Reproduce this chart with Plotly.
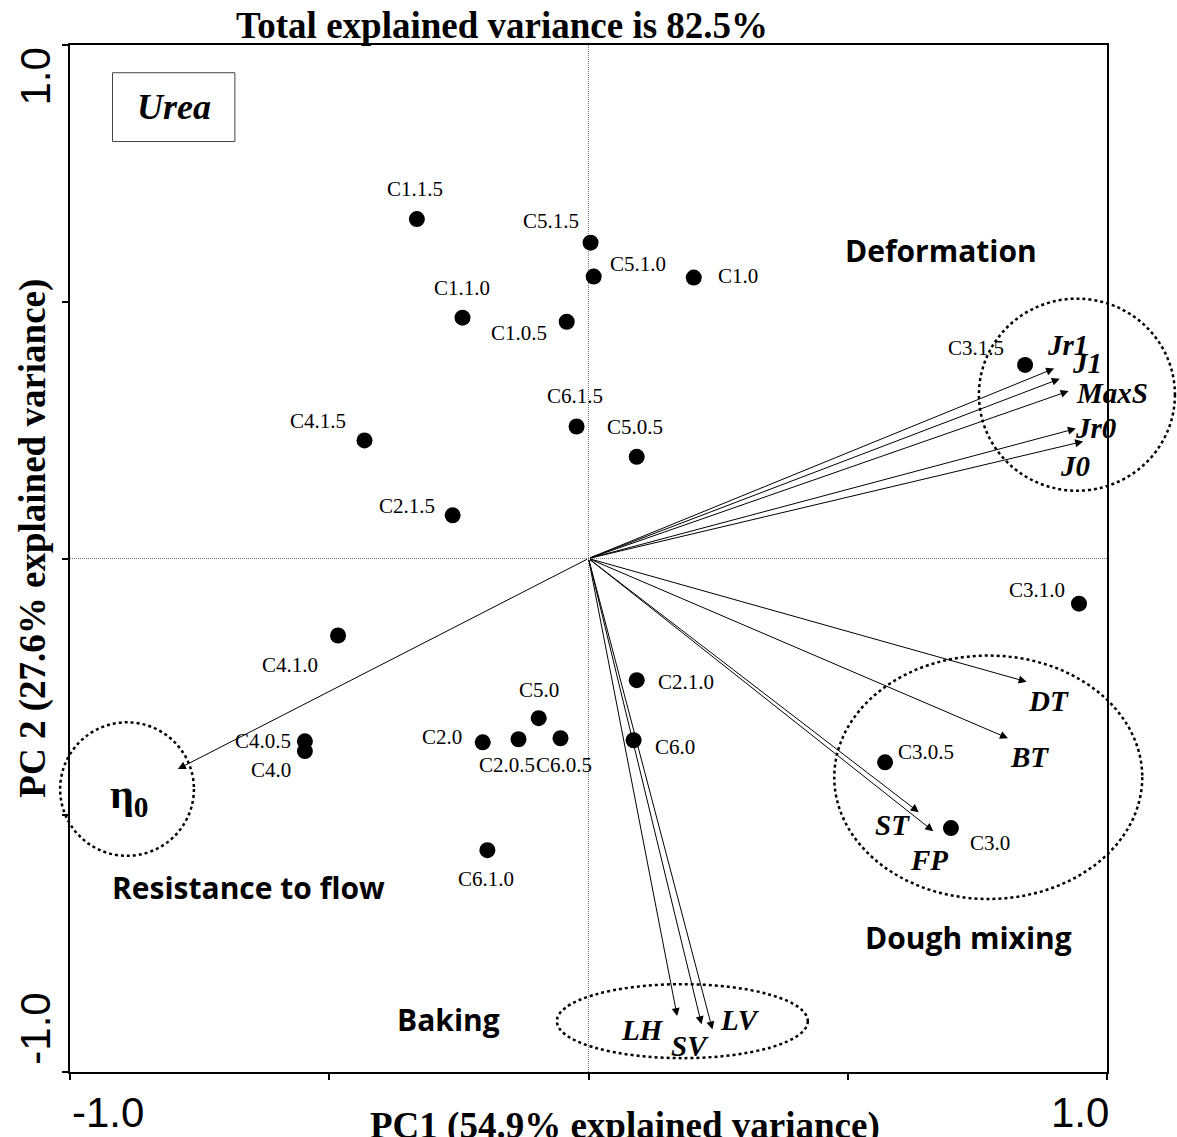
import plotly.graph_objects as go

# ---- sample scores (PC1, PC2) ----
samples = ["C1.1.5", "C5.1.5", "C5.1.0", "C1.0", "C1.1.0", "C1.0.5", "C3.1.5",
           "C4.1.5", "C6.1.5", "C5.0.5", "C2.1.5", "C3.1.0", "C4.1.0", "C2.1.0",
           "C5.0", "C2.0", "C2.0.5", "C6.0.5", "C6.0", "C4.0.5", "C4.0",
           "C3.0.5", "C3.0", "C6.1.0"]
pc1 = [-0.331, 0.004, 0.010, 0.203, -0.243, -0.042, 0.842,
       -0.432, -0.023, 0.093, -0.262, 0.946, -0.483, 0.093,
       -0.096, -0.204, -0.135, -0.054, 0.087, -0.547, -0.547,
       0.572, 0.699, -0.195]
pc2 = [0.661, 0.615, 0.549, 0.547, 0.469, 0.461, 0.377,
       0.230, 0.257, 0.198, 0.084, -0.088, -0.150, -0.237,
       -0.311, -0.358, -0.352, -0.350, -0.354, -0.356, -0.375,
       -0.397, -0.525, -0.568]
# label offsets from each point, in pixels (dx right, dy up)
label_dx = [-2, -40, 44, 44, -1, -48, -49, -47, -2, -2, -46, -42, -48, 49,
            0, -41, -12, 3, 41, -42, -34, 41, 39, -1]
label_dy = [30, 22, 13, 2, 30, -11, 17, 19, 31, 30, 9, 14, -29, -2,
            28, 5, -26, -27, -7, 0, -19, 10, -15, -29]

# ---- variable loadings ----
variables = ["Jr1", "J1", "MaxS", "Jr0", "J0", "DT", "BT", "ST", "FP",
             "LH", "SV", "LV", "η<sub>0</sub>"]
load_x = [0.898, 0.909, 0.926, 0.940, 0.954, 0.845, 0.809, 0.637, 0.665,
          0.171, 0.218, 0.239, -0.792]
load_y = [0.370, 0.350, 0.326, 0.253, 0.228, -0.240, -0.350, -0.494, -0.531,
          -0.891, -0.907, -0.917, -0.410]
var_lab_x = [0.923, 0.962, 1.010, 0.978, 0.938, 0.888, 0.850, 0.586, 0.657,
             0.104, 0.195, 0.293, -0.886]
var_lab_y = [0.416, 0.381, 0.322, 0.255, 0.180, -0.278, -0.387, -0.519, -0.588,
             -0.918, -0.949, -0.898, -0.465]

# ---- variable groups: dotted ellipses (centre, radii) and group names ----
groups = ["Deformation", "Dough mixing", "Baking", "Resistance to flow"]
group_cx = [0.942, 0.771, 0.181, -0.890]
group_cy = [0.319, -0.426, -0.901, -0.449]
group_rx = [0.189, 0.297, 0.242, 0.129]
group_ry = [0.187, 0.237, 0.072, 0.130]
group_lab_x = [0.680, 0.732, -0.270, -0.655]
group_lab_y = [0.599, -0.739, -0.897, -0.640]

XR = [-1.0, 1.0]
YR = [-1.0, 1.0]


def px(x):
    return (x - XR[0]) / (XR[1] - XR[0])


def py(y):
    return (y - YR[0]) / (YR[1] - YR[0])


SERIF = "Liberation Serif, Times New Roman, serif"
SANS = "Open Sans, sans-serif"
ARIAL = "Liberation Sans, Arial, sans-serif"


def label(x, y, text, font, **kw):
    d = dict(x=x, y=y, xref="paper", yref="paper", text=text, showarrow=False,
             xanchor="center", yanchor="middle", font=font)
    d.update(kw)
    return d


fig = go.Figure()

fig.add_trace(go.Scatter(
    x=pc1, y=pc2, mode="markers",
    marker=dict(size=16, color="black"),
    showlegend=False, hoverinfo="text", text=samples,
))

shapes = []
# dotted zero lines through the origin
shapes.append(dict(type="line", xref="x", yref="paper", x0=0, x1=0, y0=0, y1=1,
                   line=dict(color="#777777", width=1, dash="1px,1px"), layer="below"))
shapes.append(dict(type="line", xref="paper", yref="y", x0=0, x1=1, y0=0, y1=0,
                   line=dict(color="#777777", width=1, dash="1px,1px"), layer="below"))

for cx, cy, rx, ry in zip(group_cx, group_cy, group_rx, group_ry):
    shapes.append(dict(type="circle", xref="paper", yref="paper",
                       x0=px(cx - rx), x1=px(cx + rx), y0=py(cy - ry), y1=py(cy + ry),
                       line=dict(color="black", width=2.5, dash="dot")))

# "Urea" box
shapes.append(dict(type="rect", xref="paper", yref="paper",
                   x0=0.041, x1=0.159, y0=0.906, y1=0.973,
                   line=dict(color="#444444", width=1)))

annotations = []
# sample labels
for name, x, y, dx, dy in zip(samples, pc1, pc2, label_dx, label_dy):
    annotations.append(dict(x=x, y=y, xref="x", yref="y", text=name, showarrow=False,
                            xanchor="center", yanchor="middle",
                            xshift=dx, yshift=dy,
                            font=dict(family=SERIF, size=21, color="black")))

# loading arrows from the origin
for x, y in zip(load_x, load_y):
    annotations.append(dict(x=x, y=y, ax=0, ay=0, xref="x", yref="y", axref="x", ayref="y",
                            text="", showarrow=True, arrowhead=2, arrowsize=1.6,
                            arrowwidth=1, arrowcolor="black", standoff=0))

# variable names
for name, x, y in zip(variables, var_lab_x, var_lab_y):
    if name.startswith("η"):
        annotations.append(label(px(x), py(y), "<b>η<sub>0</sub></b>",
                                 dict(family=SERIF, size=42, color="black")))
    else:
        annotations.append(label(px(x), py(y), "<b><i>" + name + "</i></b>",
                                 dict(family=SERIF, size=29, color="black")))

# group names
for name, x, y in zip(groups, group_lab_x, group_lab_y):
    annotations.append(label(px(x), py(y), "<b>" + name + "</b>",
                             dict(family=SANS, size=30, color="black")))

# Urea tag
annotations.append(label(0.1, 0.94, "<b><i>Urea</i></b>",
                         dict(family=SERIF, size=36, color="black")))

# title
annotations.append(label(0.417, 1.0, "<b>Total explained variance is 82.5%</b>",
                         dict(family=SERIF, size=37, color="black"), yanchor="bottom",
                         yshift=-3))

# axis titles
annotations.append(label(0.535, -0.03, "<b>PC1 (54.9% explained variance)</b>",
                         dict(family=SERIF, size=37, color="black"), yanchor="top"))
annotations.append(label(-0.036, 0.52, "<b>PC 2 (27.6% explained variance)</b>",
                         dict(family=SERIF, size=37, color="black"), textangle=-90))

# end tick labels, set inward from the axis ends
tick_font = dict(family=ARIAL, size=42, color="black")
annotations.append(label(0.037, -0.015, "-1.0", tick_font, yanchor="top"))
annotations.append(label(0.974, -0.015, "1.0", tick_font, yanchor="top"))
annotations.append(label(-0.033, 0.969, "1.0", tick_font, textangle=-90))
annotations.append(label(-0.033, 0.042, "-1.0", tick_font, textangle=-90))

axis_common = dict(showgrid=False, zeroline=False, showline=True, linecolor="black",
                   linewidth=2, mirror=True, ticks="outside", ticklen=6, tickwidth=1.5,
                   tickcolor="black", showticklabels=False, dtick=0.5, tick0=-1.0)

fig.update_layout(
    width=1177, height=1137,
    margin=dict(l=70, r=70, t=45, b=65),
    paper_bgcolor="white", plot_bgcolor="white",
    xaxis=dict(range=XR, **axis_common),
    yaxis=dict(range=YR, **axis_common),
    shapes=shapes, annotations=annotations,
    showlegend=False,
)

fig.write_html("out.html")
